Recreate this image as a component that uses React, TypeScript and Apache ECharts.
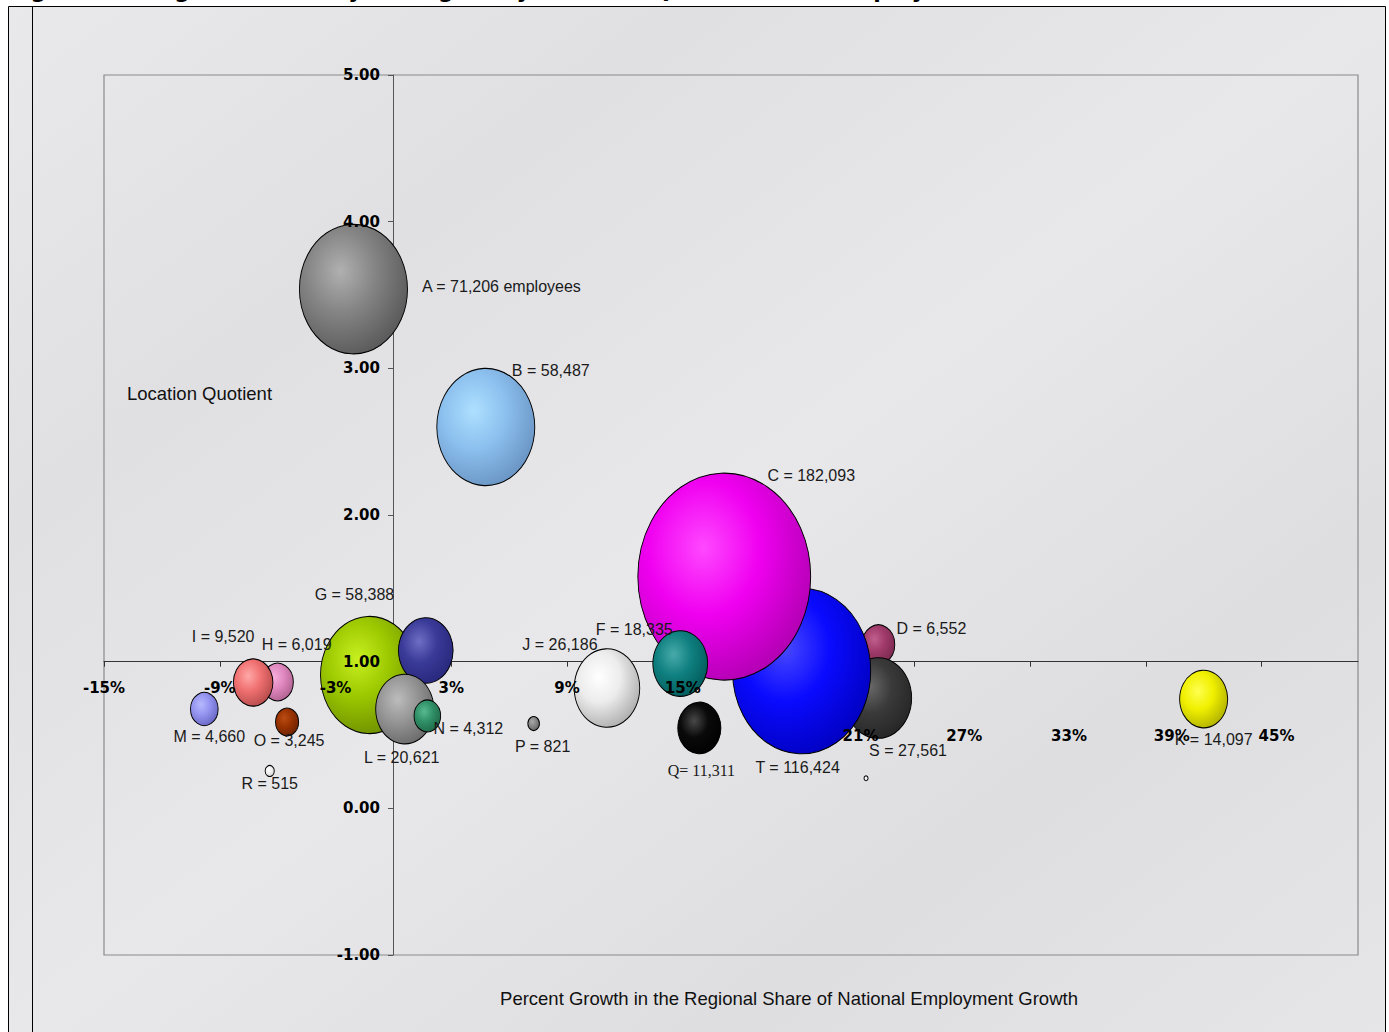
import React, { useEffect, useRef } from "react";
import * as echarts from "echarts";

// ---- data (draw order: later items sit on top) ----
const industries = ["G", "E", "L", "N", "H", "I", "M", "O", "R", "A", "B", "J", "P", "D", "S", "T", "C", "F", "Q", "K", "U"];
const growthPct = [-1.24, 1.68, 0.59, 1.76, -6.0, -7.27, -9.8, -5.51, -6.41, -2.07, 4.79, 11.07, 7.27, 25.14, 25.12, 21.16, 17.15, 14.87, 15.86, 42.0, 24.5];
const locationQuotient = [0.909, 1.076, 0.677, 0.63, 0.861, 0.858, 0.677, 0.589, 0.255, 3.54, 2.6, 0.82, 0.578, 1.117, 0.752, 0.936, 1.58, 0.987, 0.548, 0.745, 0.205];
const employment = [58388, 18200, 20621, 4312, 6019, 9520, 4660, 3245, 515, 71206, 58487, 26186, 821, 6552, 27561, 116424, 182093, 18335, 11311, 14097, 100];
const bubbleLabels = [
  "G = 58,388", "", "L = 20,621", "N = 4,312", "H = 6,019", "I = 9,520", "M = 4,660", "O = 3,245", "R = 515",
  "A = 71,206 employees", "B = 58,487", "J = 26,186", "P = 821", "D = 6,552", "S = 27,561", "T = 116,424",
  "C = 182,093", "F = 18,335", "Q= 11,311", "K = 14,097", "",
];
const xTicks = [-15, -9, -3, 3, 9, 15, 21, 27, 33, 39, 45];
const yMin = -1;
const yMax = 5;

// ---- styles ----
const bubbleColors: Record<string, [string, string, string]> = {
  A: ["#b0b0b0", "#848484", "#555555"],
  B: ["#aee0ff", "#8cc0ee", "#6690c0"],
  C: ["#ff48ff", "#f000f0", "#ac00ac"],
  D: ["#c0608e", "#a03a6a", "#78284e"],
  E: ["#6e6ec4", "#3a3a98", "#26267a"],
  F: ["#48aaaa", "#108080", "#005858"],
  G: ["#c8f020", "#9cc800", "#6a8a00"],
  H: ["#f6b0dc", "#e088c0", "#ac5e8c"],
  I: ["#ffa8a8", "#f07070", "#b04848"],
  J: ["#ffffff", "#ececec", "#a8a8a8"],
  K: ["#ffff50", "#f0f000", "#acac00"],
  L: ["#bcbcbc", "#969696", "#666666"],
  M: ["#b8b8ff", "#9494f0", "#6464c0"],
  N: ["#58b890", "#309068", "#1e6646"],
  O: ["#bc4c14", "#993300", "#6a2000"],
  P: ["#a8a8a8", "#888888", "#606060"],
  Q: ["#484848", "#0a0a0a", "#000000"],
  R: ["#ffffff", "#f0f0f0", "#d0d0d0"],
  S: ["#686868", "#3a3a3a", "#242424"],
  T: ["#4848ff", "#0a0aff", "#0000bc"],
  U: ["#ffffff", "#f0f0f0", "#d0d0d0"],
};
const labelOffsets: Record<string, [number, number]> = {
  A: [148, -3], B: [65, -57], C: [87, -101], D: [53, -16], F: [-46, -34], J: [-47, -44],
  G: [-15, -81], I: [-30, -46], H: [19, -38], M: [5, 27], O: [2, 19], R: [0, 13],
  L: [-3, 48], N: [41, 13], P: [9, 23], Q: [2, 43], T: [-4, 96], S: [30, 52], K: [10, 40],
};
const xLabelShift: Record<number, [number, number]> = {
  21: [62, 48], 27: [50, 48], 33: [39, 48], 39: [26, 48], 45: [15, 48],
};
const KX = 0.405;
const KY = 0.485;

const boldLabel = { fontFamily: "DejaVu Sans", fontWeight: "bold" as const, fontSize: 15, color: "#000" };

function buildOption() {
  const data = industries.map((n, i) => {
    const c = bubbleColors[n];
    return {
      name: n,
      value: [growthPct[i], locationQuotient[i], employment[i]],
      itemStyle: {
        color: {
          type: "radial", x: 0.38, y: 0.36, r: 0.72,
          colorStops: [
            { offset: 0, color: c[0] },
            { offset: 0.45, color: c[1] },
            { offset: 1, color: c[2] },
          ],
        },
        borderColor: "#000",
        borderWidth: 1,
        opacity: 1,
      },
      label: bubbleLabels[i]
        ? {
            show: true,
            formatter: bubbleLabels[i],
            fontFamily: n === "Q" ? "Liberation Serif" : "Liberation Sans",
          }
        : { show: false },
    };
  });

  const rich: Record<string, any> = { n: { ...boldLabel } };
  Object.keys(xLabelShift).forEach((k) => {
    const [dx, dy] = xLabelShift[Number(k)];
    rich["s" + k] = { ...boldLabel, padding: [dy, 0, 0, dx * 2] };
  });

  const xCommon = { type: "value", min: -15, max: 50, position: "bottom", offset: -293.3, splitLine: { show: false } };
  const yCommon = { type: "value", min: yMin, max: yMax, interval: 1, position: "left", offset: -289, splitLine: { show: false } };

  return {
    animation: false,
    backgroundColor: "#ffffff",
    grid: {
      left: 104, top: 75, right: 31, bottom: 77,
      show: true, borderColor: "#8a8a8a", borderWidth: 1.2, backgroundColor: "transparent",
      containLabel: false, outerBoundsMode: "none",
    },
    xAxis: [
      {
        ...xCommon,
        z: 0,
        axisLine: { show: true, onZero: false, lineStyle: { color: "#333", width: 1 } },
        axisTick: { show: true, customValues: xTicks, length: 5, lineStyle: { color: "#333" } },
        axisLabel: { show: false },
      },
      {
        ...xCommon,
        z: 10,
        axisLine: { show: false, onZero: false },
        axisTick: { show: false },
        axisLabel: {
          show: true,
          customValues: xTicks,
          margin: 19,
          ...boldLabel,
          rich,
          formatter: (v: number) => (xLabelShift[v] ? `{s${v}|${v}%}` : `{n|${v}%}`),
        },
      },
    ],
    yAxis: [
      {
        ...yCommon,
        z: 0,
        axisLine: { show: true, onZero: false, lineStyle: { color: "#555", width: 1 } },
        axisTick: { show: true, length: 5, lineStyle: { color: "#555" } },
        axisLabel: { show: false },
      },
      {
        ...yCommon,
        z: 10,
        axisLine: { show: false, onZero: false },
        axisTick: { show: false },
        axisLabel: {
          show: true,
          margin: 13,
          ...boldLabel,
          padding: [0, 0, 8, 0],
          formatter: (v: number) => v.toFixed(2),
        },
      },
    ],
    series: [
      {
        type: "scatter",
        xAxisIndex: 0,
        yAxisIndex: 0,
        symbol: "circle",
        symbolSize: (v: number[]) => [KX * Math.sqrt(v[2]), KY * Math.sqrt(v[2])],
        z: 2,
        itemStyle: { opacity: 1 },
        emphasis: { disabled: true },
        label: {
          show: true,
          position: "inside",
          fontFamily: "Liberation Sans",
          fontSize: 16,
          color: "#1a1a1a",
        },
        labelLayout: (p: any) => {
          const off = labelOffsets[industries[p.dataIndex]] || [0, 0];
          return { dx: off[0], dy: off[1], hideOverlap: false };
        },
        data,
      },
    ],
    graphic: {
      elements: [
        {
          type: "rect",
          z: -100,
          silent: true,
          shape: { x: 8.5, y: 6.5, width: 1377, height: 1040 },
          style: {
            fill: {
              type: "linear", x: 0, y: 0, x2: 1, y2: 1,
              colorStops: [
                { offset: 0, color: "#e9e9ec" },
                { offset: 0.25, color: "#e0e0e3" },
                { offset: 0.5, color: "#e8e8eb" },
                { offset: 0.75, color: "#dedee1" },
                { offset: 1, color: "#e6e6e9" },
              ],
            },
            stroke: "#000",
            lineWidth: 1,
          },
        },
        {
          type: "line",
          z: -90,
          silent: true,
          shape: { x1: 32.5, y1: 6.5, x2: 32.5, y2: 1032 },
          style: { stroke: "#000", lineWidth: 1 },
        },
        {
          type: "text",
          z: -80,
          silent: true,
          x: 8,
          y: 1,
          style: {
            text: "Figure 12: Regional Industry Strengths by Location Quotients and Employment",
            font: 'bold 22px "DejaVu Sans"',
            fill: "#000",
            verticalAlign: "bottom",
          },
        },
        {
          type: "text",
          z: 5,
          silent: true,
          x: 127,
          y: 393,
          style: {
            text: "Location Quotient",
            font: '18.5px "Liberation Sans"',
            fill: "#111",
            verticalAlign: "middle",
          },
        },
        {
          type: "text",
          z: 5,
          silent: true,
          x: 789,
          y: 998,
          style: {
            text: "Percent Growth in the Regional Share of National Employment Growth",
            font: '18.5px "Liberation Sans"',
            fill: "#111",
            align: "center",
            verticalAlign: "middle",
          },
        },
      ],
    },
  };
}

export default function App() {
  const ref = useRef<HTMLDivElement>(null);
  useEffect(() => {
    if (!ref.current) return;
    const chart = echarts.init(ref.current, undefined, { renderer: "svg" });
    chart.setOption(buildOption() as any);
    return () => chart.dispose();
  }, []);
  return (
    <div
      ref={ref}
      style={{ position: "fixed", left: 0, top: 0, width: 1389, height: 1032, background: "#fff" }}
    />
  );
}
